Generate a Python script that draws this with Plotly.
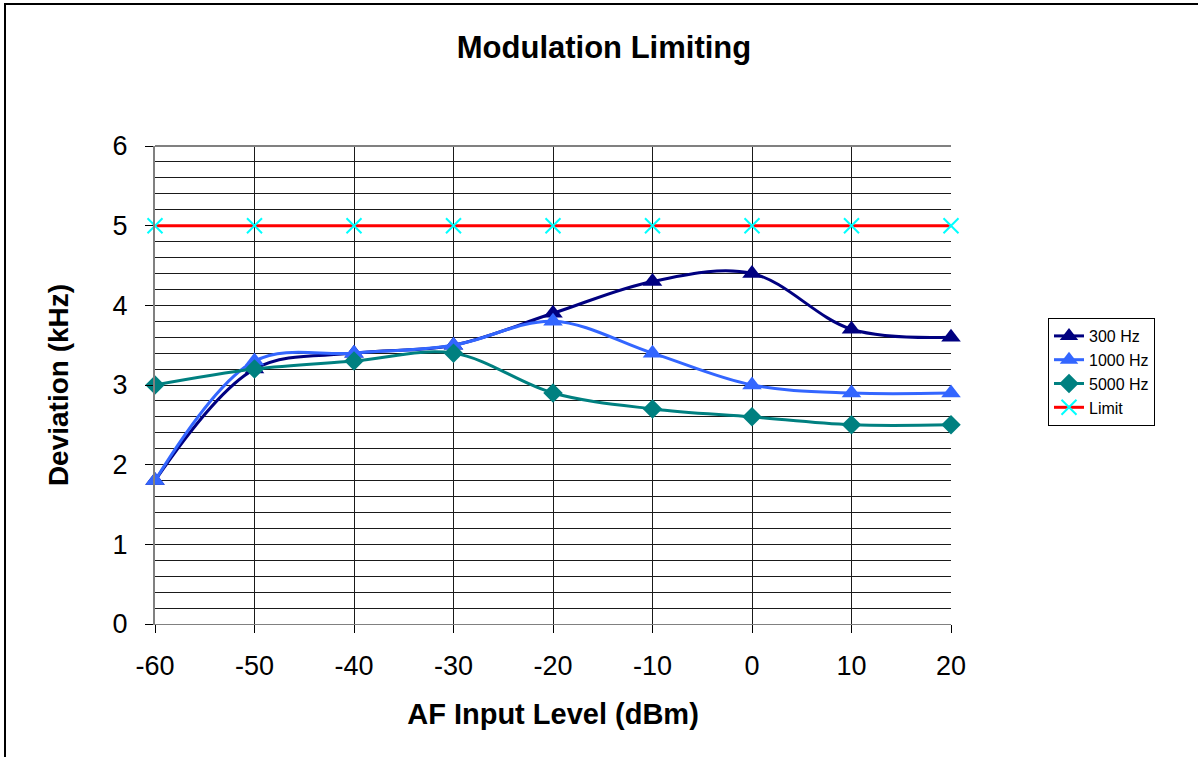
import plotly.graph_objects as go

levels = [-60, -50, -40, -30, -20, -10, 0, 10, 20]
hz300 = [1.8, 3.2, 3.4, 3.5, 3.9, 4.3, 4.4, 3.7, 3.6]
hz1000 = [1.8, 3.3, 3.4, 3.5, 3.8, 3.4, 3.0, 2.9, 2.9]
hz5000 = [3.0, 3.2, 3.3, 3.4, 2.9, 2.7, 2.6, 2.5, 2.5]
limit = [5, 5, 5, 5, 5, 5, 5, 5, 5]

FONT = "Arial, Liberation Sans, sans-serif"
fig = go.Figure()
fig.add_trace(go.Scatter(x=levels, y=hz300, name="300 Hz", mode="lines+markers", cliponaxis=False,
                         line=dict(color="#000080", width=3, shape="spline", smoothing=1),
                         marker=dict(symbol="triangle-up", size=17, color="#000080")))
fig.add_trace(go.Scatter(x=levels, y=hz1000, name="1000 Hz", mode="lines+markers", cliponaxis=False,
                         line=dict(color="#3366FF", width=3, shape="spline", smoothing=1),
                         marker=dict(symbol="triangle-up", size=17, color="#3366FF")))
fig.add_trace(go.Scatter(x=levels, y=hz5000, name="5000 Hz", mode="lines+markers", cliponaxis=False,
                         line=dict(color="#008080", width=3, shape="spline", smoothing=1),
                         marker=dict(symbol="diamond", size=15, color="#008080")))
fig.add_trace(go.Scatter(x=levels, y=limit, name="Limit", mode="lines+markers", cliponaxis=False,
                         line=dict(color="#FF0000", width=3),
                         marker=dict(symbol="x-thin", size=15, line=dict(color="#00FFFF", width=2), color="#00FFFF")))

L, R, T, B = 155, 951, 146, 624
W, H = 1198, 757
fig.update_layout(
    width=W, height=H,
    margin=dict(l=L, r=W - R, t=T, b=H - B),
    paper_bgcolor="white", plot_bgcolor="white",
    font=dict(family=FONT, color="black"),
    title=dict(text="<b>Modulation Limiting</b>", font=dict(size=31, family=FONT),
               x=604 / W, xref="container", xanchor="center",
               y=1 - 47 / H, yref="container", yanchor="middle"),
    showlegend=True,
    legend=dict(x=(1048 - L) / (R - L), y=(B - 318) / (B - T), xanchor="left", yanchor="top",
                bordercolor="black", borderwidth=1, bgcolor="white",
                font=dict(size=16, family=FONT), tracegroupgap=0, itemwidth=30),
    xaxis=dict(range=[-60, 20], tickmode="array", tickvals=levels,
               ticktext=[str(v) for v in levels],
               showgrid=True, gridcolor="#1a1a1a", gridwidth=1,
               showline=True, linecolor="#808080", linewidth=1,
               ticks="outside", ticklen=8, tickcolor="black",
               ticklabelstandoff=10,
               tickfont=dict(size=27, family=FONT), zeroline=False,
               title=dict(text="<b>AF Input Level (dBm)</b>", font=dict(size=29, family=FONT), standoff=23)),
    yaxis=dict(range=[0, 6], tickmode="linear", dtick=1, tick0=0,
               showgrid=True, gridcolor="#1a1a1a", gridwidth=1,
               minor=dict(dtick=0.2, showgrid=True, gridcolor="#1a1a1a", gridwidth=1),
               showline=True, linecolor="#808080", linewidth=2, mirror=False,
               ticks="outside", ticklen=8, tickcolor="black",
               ticklabelstandoff=12,
               tickfont=dict(size=27, family=FONT), zeroline=False,
               title=dict(text="<b>Deviation (kHz)</b>", font=dict(size=28, family=FONT), standoff=36)),
    shapes=[
        dict(type="line", xref="paper", yref="paper", x0=0, x1=1, y0=1, y1=1,
             line=dict(color="#808080", width=2)),
        dict(type="rect", xref="paper", yref="paper",
             x0=(5 - L) / (R - L), x1=3, y0=-3, y1=(B - 4) / (B - T),
             line=dict(color="black", width=2), fillcolor="rgba(0,0,0,0)", layer="below"),
    ],
)

fig.write_html("out.html")
